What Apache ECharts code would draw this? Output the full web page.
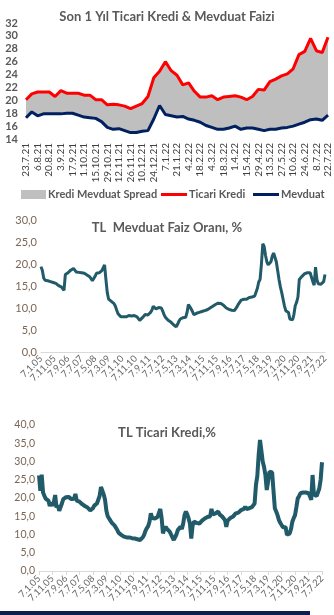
<!DOCTYPE html>
<html><head><meta charset="utf-8">
<script src="https://cdn.jsdelivr.net/npm/echarts@6/dist/echarts.min.js"></script>
<style>html,body{margin:0;padding:0;background:#fff}#c{width:334px;height:615px}</style>
</head><body><div id="c"></div>
<script>
// ---- Chart 1: last 1 year weekly ----
const weeks = ["23.7.21","30.7.21","6.8.21","13.8.21","20.8.21","27.8.21","3.9.21","10.9.21","17.9.21","24.9.21","1.10.21","8.10.21","15.10.21","22.10.21","29.10.21","5.11.21","12.11.21","19.11.21","26.11.21","3.12.21","10.12.21","17.12.21","24.12.21","31.12.21","7.1.22","14.1.22","21.1.22","28.1.22","4.2.22","11.2.22","18.2.22","25.2.22","4.3.22","11.3.22","18.3.22","25.3.22","1.4.22","8.4.22","15.4.22","22.4.22","29.4.22","6.5.22","13.5.22","20.5.22","27.5.22","3.6.22","10.6.22","17.6.22","24.6.22","1.7.22","8.7.22","15.7.22","22.7.22"];
const ticariKredi1Y = [20.1,21.0,21.3,21.3,21.3,20.6,21.5,21.1,21.1,21.1,20.8,20.8,20.1,20.1,19.3,19.4,19.3,19.1,18.7,19.1,19.5,20.6,23.5,24.5,26.0,24.6,23.9,22.4,22.7,21.4,20.5,20.5,20.7,20.1,20.5,20.6,20.7,20.5,20.1,20.6,21.7,21.6,22.9,23.3,23.8,24.1,24.9,27.1,27.6,29.6,27.7,27.4,29.8];
const mevduat1Y = [17.3,18.2,17.6,17.9,17.9,17.9,17.9,18.0,18.0,17.7,17.4,17.3,17.2,16.7,15.8,15.5,15.6,15.3,15.0,15.0,15.2,15.3,17.1,19.2,17.8,17.6,17.4,17.5,17.1,16.9,16.6,16.1,15.8,15.5,15.5,15.7,16.0,15.5,15.7,15.7,15.5,15.3,15.5,15.5,15.7,15.8,16.0,16.3,16.6,17.0,17.1,16.9,17.7];
const yTicks1 = {min:14, max:32, step:2};

// ---- Charts 2 & 3: monthly, Jan 2005 - Jul 2022 ----
const mevduatLong = [
 19.4,18.5,16.8,16.3,16.3,16.2,16.0,16.0,15.9,15.8,15.8,15.6, // 2005
 15.3,15.1,15.0,14.8,14.5,14.0,17.6,17.9,18.0,18.3,18.6,18.9, // 2006
 19.0,18.6,18.2,18.2,18.1,18.1,18.0,18.0,17.9,17.8,17.5,17.3, // 2007
 17.1,16.8,16.2,16.3,17.2,17.9,17.9,18.0,18.2,18.5,18.3,19.8, // 2008
 16.5,13.5,12.0,11.8,11.5,11.2,11.0,10.4,9.5,8.7,8.3,8.0,     // 2009
 7.9,8.0,8.1,8.0,8.2,8.3,8.4,8.2,8.2,8.3,8.1,8.0,             // 2010
 7.6,7.2,7.5,7.8,8.2,8.5,8.7,8.4,8.6,9.0,9.5,10.4,            // 2011
 10.0,9.8,9.9,10.1,10.2,10.0,9.3,8.5,7.9,7.5,7.2,7.0,         // 2012
 6.8,6.6,6.2,6.0,5.7,6.3,7.0,7.5,7.6,7.8,7.8,7.9,             // 2013
 9.0,10.8,10.5,9.8,9.2,8.5,8.7,8.8,8.9,9.0,9.1,9.2,           // 2014
 9.3,9.4,9.5,9.6,9.8,10.0,10.2,10.4,10.5,10.8,11.0,11.1,      // 2015
 11.1,11.0,10.8,10.6,10.3,10.0,9.8,9.7,9.6,9.5,9.5,9.4,       // 2016
 9.8,10.3,10.9,11.2,11.8,12.1,12.0,11.9,12.0,12.2,12.4,12.3,  // 2017
 12.5,12.6,12.7,13.0,14.5,15.9,16.5,20.0,24.6,24.0,22.0,20.5, // 2018
 19.8,19.5,20.5,21.8,22.5,22.8,20.5,18.5,16.5,14.8,13.5,12.0, // 2019
 10.5,9.4,9.2,9.0,7.5,7.2,7.3,8.5,10.5,11.3,12.5,16.5,        // 2020
 16.8,17.2,17.5,17.8,18.0,18.0,17.9,18.0,17.8,16.0,15.2,19.3, // 2021
 16.5,15.5,15.3,15.4,15.6,16.0,17.6                           // 2022
];
const ticariKrediLong = [
 26.2,22.0,26.4,21.5,20.6,19.8,20.2,19.3,17.8,18.8,17.9,18.8, // 2005
 20.8,17.4,18.0,16.5,16.0,18.5,19.7,20.0,20.2,20.6,20.3,19.9, // 2006
 19.7,19.5,19.8,21.1,19.3,19.6,19.0,18.7,18.3,18.0,17.8,17.6, // 2007
 17.4,17.0,16.6,16.5,17.2,17.9,18.2,18.5,18.8,20.6,23.0,22.6, // 2008
 21.0,19.5,16.5,15.0,14.6,13.8,13.2,13.0,12.5,12.1,11.3,10.5, // 2009
 10.3,9.9,9.6,9.4,9.3,9.2,9.3,9.2,9.2,9.0,9.1,8.9,            // 2010
 8.8,8.7,8.6,8.5,8.6,9.2,9.9,11.0,11.7,12.3,13.5,15.8,        // 2011
 14.5,14.2,14.4,14.6,14.8,14.9,17.0,14.5,10.3,11.5,12.1,11.5, // 2012
 11.2,10.8,10.0,9.2,8.5,9.0,10.0,11.2,11.0,12.1,11.5,13.0,    // 2013
 15.3,16.3,15.5,14.4,13.0,8.9,12.5,13.5,13.0,13.2,13.5,13.0,  // 2014
 13.4,13.8,14.2,14.4,14.0,14.8,15.3,15.0,17.0,15.5,15.3,15.8, // 2015
 15.6,16.3,15.5,15.6,14.9,14.5,14.0,12.1,13.8,14.0,14.5,14.3, // 2016
 14.9,15.2,15.8,16.3,16.0,16.5,16.7,16.3,17.0,17.6,17.0,17.5, // 2017
 17.2,16.8,17.5,17.2,18.5,23.6,26.0,31.8,35.9,33.0,30.0,28.5, // 2018
 26.3,22.2,24.5,27.2,27.7,27.0,22.0,17.2,16.3,15.3,14.0,13.2, // 2019
 12.6,12.0,11.7,12.0,9.9,10.0,10.3,11.5,13.5,14.5,15.3,17.5,  // 2020
 19.9,20.5,21.3,21.5,21.5,21.7,21.5,21.3,21.3,20.5,19.5,26.3, // 2021
 21.0,20.8,20.5,20.4,22.6,25.0,29.8                           // 2022
];
const startYear = 2005, monthCount = 211, labelEvery = 10;
const months = [];
for (let m = 0; m < monthCount; m++) {
  const y = startYear + Math.floor(m / 12);
  months.push('7.' + (m % 12 + 1) + '.' + String(y % 100).padStart(2, '0'));
}
const yTicks2 = {min:0, max:30, step:5};
const yTicks3 = {min:0, max:40, step:5};

const spread1Y = ticariKredi1Y.map((v, i) => +(v - mevduat1Y[i]).toFixed(2));

const FONT = 'Lato, "Open Sans", sans-serif';
const fmt = v => v.toFixed(1).replace('.', ',');
const monthLabel = (v, i) => (i % labelEvery === 0 ? v : '');
const chart = echarts.init(document.getElementById('c'), null, {renderer: 'canvas'});
const titleStyle = {fontFamily: FONT, fontWeight: 'bold', fontSize: 13, color: '#595959'};
const teal = '#215a68';
const legText = {fontFamily: FONT, fontSize: 11, fontWeight: 'bold', color: '#595959', padding: [0,0,0,-3]};

chart.setOption({
  animation: false,
  title: [
    {text: 'Son 1 Yıl Ticari Kredi & Mevduat Faizi', left: 'center', top: 5, textStyle: titleStyle},
    {text: 'TL  Mevduat Faiz Oranı, %', left: 'center', top: 216, textStyle: titleStyle},
    {text: 'TL Ticari Kredi,%', left: 'center', top: 421, textStyle: titleStyle}
  ],
  legend: [
    {data: ['Kredi Mevduat Spread'], left: 16, top: 184, icon: 'rect', itemWidth: 25, itemHeight: 9, textStyle: legText},
    {data: ['Ticari Kredi'], left: 156, top: 184, icon: 'rect', itemWidth: 26, itemHeight: 3, textStyle: legText},
    {data: ['Mevduat'], left: 248, top: 184, icon: 'rect', itemWidth: 26, itemHeight: 3, textStyle: legText}
  ],
  grid: [
    {left: 26, right: 6, top: 23, height: 116},
    {left: 41, right: 9, top: 220, height: 132},
    {left: 39, right: 12, top: 425, height: 146}
  ],
  xAxis: [
    {type: 'category', gridIndex: 0, data: weeks, boundaryGap: false,
     axisLine: {show: false}, axisTick: {show: false},
     axisLabel: {interval: 1, rotate: 90, fontFamily: FONT, fontSize: 10, color: '#404040', margin: 4}},
    {type: 'category', gridIndex: 1, data: months, boundaryGap: false,
     axisLine: {lineStyle: {color: '#d9d9d9'}}, axisTick: {show: false},
     axisLabel: {interval: 0, formatter: monthLabel, rotate: 45, fontFamily: FONT, fontSize: 9.5, color: '#666666', margin: 5}},
    {type: 'category', gridIndex: 2, data: months, boundaryGap: false,
     axisLine: {lineStyle: {color: '#d9d9d9'}}, axisTick: {show: true, interval: labelEvery - 1, length: 4, lineStyle: {color: '#d9d9d9'}},
     axisLabel: {interval: 0, formatter: monthLabel, rotate: 45, fontFamily: FONT, fontSize: 9.5, color: '#666666', margin: 6}}
  ],
  yAxis: [
    {type: 'value', gridIndex: 0, min: yTicks1.min, max: yTicks1.max, interval: yTicks1.step,
     splitLine: {show: false}, axisLine: {show: false},
     axisLabel: {fontFamily: FONT, fontSize: 11, fontWeight: 'bold', color: '#595959', margin: 8}},
    {type: 'value', gridIndex: 1, min: yTicks2.min, max: yTicks2.max, interval: yTicks2.step,
     splitLine: {show: false}, axisLine: {show: false},
     axisLabel: {fontFamily: FONT, fontSize: 11, color: '#7a6656', margin: 4, formatter: fmt}},
    {type: 'value', gridIndex: 2, min: yTicks3.min, max: yTicks3.max, interval: yTicks3.step,
     splitLine: {show: false}, axisLine: {show: false},
     axisLabel: {fontFamily: FONT, fontSize: 10.5, color: '#7a6656', margin: 4, formatter: fmt}}
  ],
  series: [
    {name: 'base', type: 'line', xAxisIndex: 0, yAxisIndex: 0, stack: 's', data: mevduat1Y,
     symbol: 'none', lineStyle: {opacity: 0}, silent: true},
    {name: 'Kredi Mevduat Spread', type: 'line', xAxisIndex: 0, yAxisIndex: 0, stack: 's', data: spread1Y,
     symbol: 'none', lineStyle: {opacity: 0}, itemStyle: {color: '#bfbfbf'}, areaStyle: {color: '#bfbfbf', opacity: 1}},
    {name: 'Ticari Kredi', type: 'line', xAxisIndex: 0, yAxisIndex: 0, data: ticariKredi1Y,
     symbol: 'none', itemStyle: {color: '#ff0000'}, lineStyle: {color: '#ff0000', width: 3}},
    {name: 'Mevduat', type: 'line', xAxisIndex: 0, yAxisIndex: 0, data: mevduat1Y,
     symbol: 'none', itemStyle: {color: '#002060'}, lineStyle: {color: '#002060', width: 3}},
    {name: 'TL Mevduat', type: 'line', xAxisIndex: 1, yAxisIndex: 1, data: mevduatLong,
     symbol: 'none', lineStyle: {color: teal, width: 3}},
    {name: 'TL Ticari Kredi', type: 'line', xAxisIndex: 2, yAxisIndex: 2, data: ticariKrediLong,
     symbol: 'none', lineStyle: {color: teal, width: 4}}
  ],
  graphic: [
    {type: 'rect', shape: {x: 0, y: 611, width: 310, height: 4}, style: {fill: '#0b1f4e'}}
  ]
});
</script></body></html>
